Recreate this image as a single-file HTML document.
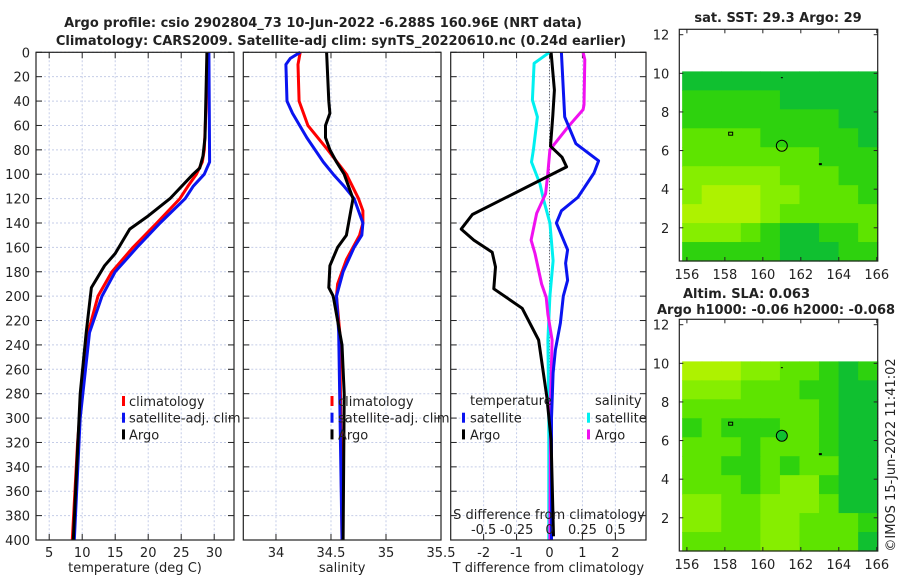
<!DOCTYPE html>
<html><head><meta charset="utf-8"><style>
html,body{margin:0;padding:0;background:#fff;}
svg{display:block;font-family:"DejaVu Sans","Liberation Sans",sans-serif;}
</style></head><body>
<svg id="c" width="900" height="580" viewBox="0 0 900 580" xmlns="http://www.w3.org/2000/svg"></svg>
<script>
// ---------- data ----------
const depthTicks=[0,20,40,60,80,100,120,140,160,180,200,220,240,260,280,300,320,340,360,380,400];
const tempTicks=[5,10,15,20,25,30];
const salTicks=[34,34.5,35,35.5];
const tdiffTicks=[-2,-1,0,1,2];
const sdiffTicks=[-0.5,-0.25,0,0.25,0.5];
const mapLonTicks=[156,158,160,162,164,166];
const mapLatTicks=[2,4,6,8,10,12];

const tClimDepth=[0,80,90,100,110,120,140,160,180,200,230,280,320,400];
const tClimVal=[29.1,28.5,28.2,27.3,26.0,24.8,21.3,17.7,14.5,12.4,10.9,9.9,9.3,8.5];
const tSatDepth=[0,90,100,110,120,140,160,180,200,230,300,400];
const tSatVal=[29.2,29.3,28.5,26.8,25.6,21.8,18.3,15.0,13.0,11.1,9.7,8.8];
const tArgoDepth=[0,70,85,95,100,120,135,145,165,175,193,230,280,400];
const tArgoVal=[28.9,28.6,28.3,27.8,26.8,23.3,19.8,17.2,15.0,13.4,11.4,10.6,9.7,8.65];

const sClimDepth=[0,10,40,50,60,80,100,120,130,140,150,170,190,200,230,400];
const sClimVal=[34.22,34.20,34.21,34.25,34.29,34.47,34.64,34.75,34.79,34.79,34.76,34.64,34.56,34.55,34.58,34.60];
const sSatDepth=[0,5,10,40,50,70,90,100,110,120,140,150,160,180,200,230,400];
const sSatVal=[34.22,34.13,34.09,34.10,34.15,34.28,34.43,34.52,34.62,34.71,34.79,34.78,34.71,34.61,34.55,34.57,34.60];
const sArgoDepth=[0,40,50,60,70,80,90,100,120,140,150,160,175,193,200,240,280,400];
const sArgoVal=[34.46,34.48,34.49,34.45,34.45,34.49,34.55,34.62,34.70,34.66,34.64,34.56,34.49,34.48,34.52,34.60,34.62,34.61];

const dTSatDepth=[0,53,75,89,99,119,130,140,162,173,187,200,222,244,263,300,400];
const dTSatVal=[0.36,0.46,0.8,1.49,1.35,0.86,0.36,0.21,0.55,0.49,0.55,0.42,0.33,0.18,0.11,0.06,0.06];
const dTArgoDepth=[0,31,52,77,86,94,133,145,154,164,176,194,210,236,283,318,397];
const dTArgoVal=[0.05,0.15,0.1,0.03,0.38,0.52,-2.34,-2.68,-2.3,-1.74,-1.64,-1.69,-0.83,-0.33,-0.08,0.05,0.12];
const dSSatDepth=[0,9,39,53,80,90,108,120,140,171,200,236,300,400];
const dSSatVal=[0,-0.117,-0.13,-0.092,-0.122,-0.137,-0.072,-0.047,0.003,0.027,0.003,-0.012,-0.005,-0.005];
const dSArgoDepth=[0,6,43,47,61,80,102,116,132,154,165,190,201,215,236,283,400];
const dSArgoVal=[0.255,0.268,0.262,0.255,0.142,0.003,-0.015,-0.03,-0.097,-0.14,-0.11,-0.06,-0.025,-0.012,0.02,0.008,0.003];

const map1Levels=["0000000000","1111100000","1111111100","2222111110","2222222111","3333322211","3444332221","4444322222","3332100112","1111100011"];
const map2Levels=["4443322101","3332221100","2222222100","1211122100","2221222100","2211212200","2221233100","3322333200","3322332221","2222332220"];
const argoLon=[161.0];
const argoLat=[6.25];

// ---------- helpers ----------
const NS="http://www.w3.org/2000/svg";
const svg=document.getElementById('c');
function mk(tag,attrs,parent){const e=document.createElementNS(NS,tag);for(const k in attrs)e.setAttribute(k,attrs[k]);(parent||svg).appendChild(e);return e;}
function txt(x,y,s,size,anchor,weight,parent){const t=mk('text',{x:x,y:y,'font-size':size,'text-anchor':anchor||'middle','fill':'#222','font-weight':weight||'normal'},parent);t.textContent=s;return t;}

const TOP=52.3,BOT=540;
function yD(d){return TOP+(BOT-TOP)*d/400;}

const panels=[
 {name:'temperature-panel',x0:36,x1:234,lo:3,hi:33,ticks:tempTicks,label:'temperature (deg C)'},
 {name:'salinity-panel',x0:243.3,x1:441,lo:33.703,hi:35.5,ticks:salTicks,label:'salinity'},
 {name:'difference-panel',x0:450.7,x1:646,lo:-3.0,hi:2.93,ticks:tdiffTicks,label:'T difference from climatology'}
];
panels.forEach(p=>{p.sx=v=>p.x0+(p.x1-p.x0)*(v-p.lo)/(p.hi-p.lo);});

// titles
let t1=txt(323,27,'Argo profile: csio 2902804_73 10-Jun-2022 -6.288S 160.96E (NRT data)',13,'middle','bold');


let t2=txt(341,45,'Climatology: CARS2009. Satellite-adj clim: synTS_20220610.nc (0.24d earlier)',13,'middle','bold');



panels.forEach((p,pi)=>{
  const g=mk('g',{});
  
  
  // grid
  depthTicks.forEach(d=>{
    const l=mk('line',{x1:p.x0,x2:p.x1,y1:yD(d),y2:yD(d),stroke:'#c5cde8','stroke-width':1,'stroke-dasharray':'2,2'},g);
    
    
    mk('line',{x1:p.x0,x2:p.x0+6,y1:yD(d),y2:yD(d),stroke:'#222'},g);
    mk('line',{x1:p.x1-6,x2:p.x1,y1:yD(d),y2:yD(d),stroke:'#222'},g);
  });
  p.ticks.forEach(v=>{
    const x=p.sx(v);
    if(x>p.x0+1&&x<p.x1-1){
      const l=mk('line',{x1:x,x2:x,y1:TOP,y2:BOT,stroke:'#c5cde8','stroke-width':1,'stroke-dasharray':'2,2'},g);
      
      
    }
    mk('line',{x1:x,x2:x,y1:TOP,y2:TOP+6,stroke:'#222'},g);
    mk('line',{x1:x,x2:x,y1:BOT-6,y2:BOT,stroke:'#222'},g);
    const tl=txt(x,557,String(v),13,'middle','normal',g);
    
    
  });
  const xl=txt((p.x0+p.x1)/2,572,p.label,13,'middle','normal',g);
  
  
  if(pi===0){
    depthTicks.forEach(d=>{
      const yl=txt(30,yD(d)+5,String(d),13,'end','normal',g);
      
      
    });
  }
});

function line(p,depths,vals,color,name,scale){
  const pts=depths.map((d,i)=>p.sx(vals[i]*(scale||1)).toFixed(1)+','+yD(d).toFixed(1)).join(' ');
  const l=mk('polyline',{points:pts,fill:'none',stroke:color,'stroke-width':3,'stroke-linejoin':'round'});
  
  
}
const P1=panels[0],P2=panels[1],P3=panels[2];
line(P1,tClimDepth,tClimVal,'#ff0000','temp-climatology-line');
line(P1,tSatDepth,tSatVal,'#0a14f0','temp-satellite-line');
line(P1,tArgoDepth,tArgoVal,'#000','temp-argo-line');
line(P2,sClimDepth,sClimVal,'#ff0000','sal-climatology-line');
line(P2,sSatDepth,sSatVal,'#0a14f0','sal-satellite-line');
line(P2,sArgoDepth,sArgoVal,'#000','sal-argo-line');
// zero line
const z=mk('line',{x1:P3.sx(0),x2:P3.sx(0),y1:TOP,y2:BOT,stroke:'#444','stroke-width':1,'stroke-dasharray':'1,2'});


line(P3,dSSatDepth,dSSatVal,'#00f0f0','sdiff-satellite-line',4);
line(P3,dSArgoDepth,dSArgoVal,'#f010f0','sdiff-argo-line',4);
line(P3,dTSatDepth,dTSatVal,'#0a14f0','tdiff-satellite-line');
line(P3,dTArgoDepth,dTArgoVal,'#000','tdiff-argo-line');

// frames
panels.forEach(p=>{mk('rect',{x:p.x0,y:TOP,width:p.x1-p.x0,height:BOT-TOP,fill:'none',stroke:'#222','stroke-width':1.2});});

// S diff axis labels
const st=txt(549,519,'S difference from climatology',13,'middle','normal');


sdiffTicks.forEach(v=>{
  const l=txt(P3.sx(v*4),534,String(v),13,'middle','normal');
  
  
});

// legends
function legendItem(bx,tx,y,color,label,name){
  const g=mk('g',{});
  
  
  mk('rect',{x:bx,y:y-9,width:3,height:10,fill:color},g);
  txt(tx,y+1,label,13,'start','normal',g);
}
[['#ff0000','climatology'],['#0a14f0','satellite-adj. clim'],['#000','Argo']].forEach((it,i)=>{
  legendItem(122,129,405+i*16.7,it[0],it[1],'legend-entry-temp-'+i);
  legendItem(330.5,338,405+i*16.7,it[0],it[1],'legend-entry-sal-'+i);
});
const lt=txt(470,405,'temperature',13,'start','normal');


const ls=txt(595,405,'salinity',13,'start','normal');


legendItem(462,470,421.7,'#0a14f0','satellite','legend-entry-tdiff-satellite');
legendItem(462,470,438.4,'#000','Argo','legend-entry-tdiff-argo');
legendItem(587,595,421.7,'#00f0f0','satellite','legend-entry-sdiff-satellite');
legendItem(587,595,438.4,'#f010f0','Argo','legend-entry-sdiff-argo');

// ---------- maps ----------
const palette=['#10c030','#2ed20e','#5ee400','#86ee00','#aef200'];
function drawMap(top,bottom,levels,name,title,markerFill){
  const L=679.3,R=877.7,lonLo=155.6,lonHi=166.05,latLo=0.28,latHi=12.28;
  const sx=v=>L+(R-L)*(v-lonLo)/(lonHi-lonLo);
  const sy=v=>bottom-(bottom-top)*(v-latLo)/(latHi-latLo);
  const g=mk('g',{});
  
  
  const x0=sx(155.75),x1=sx(166.05),y0=sy(10.1),y1=sy(latLo);
  const nr=levels.length,nc=levels[0].length;
  levels.forEach((row,r)=>{
    for(let c=0;c<nc;c++){
      const cell=mk('rect',{x:x0+(x1-x0)*c/nc,y:y0+(y1-y0)*r/nr,width:(x1-x0)/nc+0.6,height:(y1-y0)/nr+0.6,fill:palette[+row[c]]},g);
      
      
    }
  });
  mk('rect',{x:L,y:top,width:R-L,height:bottom-top,fill:'none',stroke:'#222','stroke-width':1.2},g);
  mapLonTicks.forEach(v=>{
    const x=sx(v);
    mk('line',{x1:x,x2:x,y1:top,y2:top+4,stroke:'#222'},g);
    mk('line',{x1:x,x2:x,y1:bottom-4,y2:bottom,stroke:'#222'},g);
    const l=txt(x,bottom+18,String(v),13,'middle','normal',g);
    
    
  });
  mapLatTicks.forEach(v=>{
    const y=sy(v);
    mk('line',{x1:L,x2:L+4,y1:y,y2:y,stroke:'#222'},g);
    mk('line',{x1:R-4,x2:R,y1:y,y2:y,stroke:'#222'},g);
    const l=txt(L-10,y+5,String(v),13,'end','normal',g);
    
    
  });
  // coastline bits
  mk('rect',{x:sx(158.2),y:sy(6.95),width:4,height:3,fill:'none',stroke:'#000'},g);
  mk('rect',{x:sx(162.95),y:sy(5.35),width:3,height:2,fill:'#000'},g);
  mk('rect',{x:sx(160.95),y:sy(9.8),width:2,height:1,fill:'#000'},g);
  argoLon.forEach((lo,i)=>{
    const m=mk('circle',{cx:sx(lo),cy:sy(argoLat[i]),r:5.5,fill:markerFill,stroke:'#000','stroke-width':1},g);
    
    
  });
  const tt=txt(title[1],title[2],title[0],13,title[3],'bold',g);
  
  
}
drawMap(29.3,261,map1Levels,'sst-map',['sat. SST: 29.3 Argo: 29',778,22,'middle'],'none');
drawMap(319.3,551,map2Levels,'sla-map',['Argo h1000: -0.06 h2000: -0.068',657,314,'start'],'#10c030');
const sla=txt(683,298,'Altim. SLA: 0.063',13,'start','bold');


const cp=txt(0,0,'©IMOS 15-Jun-2022 11:41:02',13,'middle','normal');
cp.setAttribute('transform','translate(895,455) rotate(-90)');


</script>
</body></html>
